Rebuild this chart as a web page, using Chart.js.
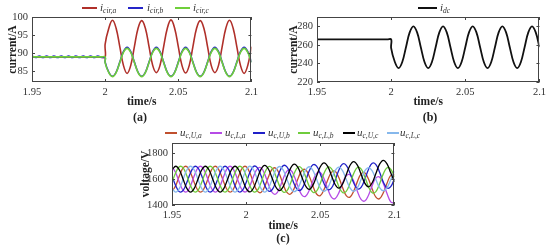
<!DOCTYPE html>
<html>
<head>
<meta charset="utf-8">
<script src="https://cdn.jsdelivr.net/npm/chart.js@4.4.0/dist/chart.umd.min.js"></script>
<style>
  html, body { margin: 0; padding: 0; background: #fff; }
  #wrap { position: relative; width: 550px; height: 250px; overflow: hidden; background: #fff; }
  canvas { position: absolute; }
  .cap { position: absolute; font: bold 12px "Liberation Serif", serif; color: #222; text-align: center; line-height: 14px; }
  .lg-line { position: absolute; height: 2px; }
  .lg-txt { position: absolute; font: italic 11px "Liberation Serif", serif; color: #333; line-height: 14px; white-space: nowrap; }
  .lg-txt sub { font-size: 7.5px; vertical-align: -2px; }
</style>
</head>
<body>
<div id="wrap">
  <canvas id="chartA" width="262" height="109" style="left:0;top:0"></canvas>
  <canvas id="chartB" width="268" height="109" style="left:282px;top:0"></canvas>
  <canvas id="chartC" width="270" height="107" style="left:135px;top:126px"></canvas>

  <!-- legends -->
  <div class="lg-line" style="left:82px;top:7px;width:15px;background:#b0302a"></div>
  <div class="lg-txt" style="left:100px;top:0px"><i>i</i><sub>cir,a</sub></div>
  <div class="lg-line" style="left:128px;top:7px;width:15px;background:#2525c8"></div>
  <div class="lg-txt" style="left:147px;top:0px"><i>i</i><sub>cir,b</sub></div>
  <div class="lg-line" style="left:175px;top:7px;width:15px;background:#6fcf3a"></div>
  <div class="lg-txt" style="left:193px;top:0px"><i>i</i><sub>cir,c</sub></div>

  <div class="lg-line" style="left:418px;top:7px;width:19px;background:#111"></div>
  <div class="lg-txt" style="left:440px;top:0px"><i>i</i><sub>dc</sub></div>

  <div class="lg-line" style="left:165px;top:132px;width:12px;background:#c0502e"></div>
  <div class="lg-txt" style="left:180px;top:125px"><i>u</i><sub>c,U,a</sub></div>
  <div class="lg-line" style="left:210px;top:132px;width:12px;background:#b64be6"></div>
  <div class="lg-txt" style="left:225px;top:125px"><i>u</i><sub>c,L,a</sub></div>
  <div class="lg-line" style="left:253px;top:132px;width:12px;background:#2020c8"></div>
  <div class="lg-txt" style="left:268px;top:125px"><i>u</i><sub>c,U,b</sub></div>
  <div class="lg-line" style="left:298px;top:132px;width:12px;background:#6fcc3c"></div>
  <div class="lg-txt" style="left:313px;top:125px"><i>u</i><sub>c,L,b</sub></div>
  <div class="lg-line" style="left:343px;top:132px;width:12px;background:#000"></div>
  <div class="lg-txt" style="left:357px;top:125px"><i>u</i><sub>c,U,c</sub></div>
  <div class="lg-line" style="left:387px;top:132px;width:12px;background:#86b8ec"></div>
  <div class="lg-txt" style="left:400px;top:125px"><i>u</i><sub>c,L,c</sub></div>

  <div class="cap" style="left:90px;top:110px;width:100px">(a)</div>
  <div class="cap" style="left:380px;top:110px;width:100px">(b)</div>
  <div class="cap" style="left:233px;top:231px;width:100px">(c)</div>
</div>
<script>
// --- DATA ---
// time before the step (1.95 .. 1.9975 s) and after it (2.0 .. 2.1 s)
const tPre = [1.95, 1.9525, 1.955, 1.9575, 1.96, 1.9625, 1.965, 1.9675, 1.97, 1.9725,
  1.975, 1.9775, 1.98, 1.9825, 1.985, 1.9875, 1.99, 1.9925, 1.995, 1.9975];
const tDyn = [2, 2.0025, 2.005, 2.0075, 2.01, 2.0125, 2.015, 2.0175, 2.02, 2.0225,
  2.025, 2.0275, 2.03, 2.0325, 2.035, 2.0375, 2.04, 2.0425, 2.045, 2.0475,
  2.05, 2.0525, 2.055, 2.0575, 2.06, 2.0625, 2.065, 2.0675, 2.07, 2.0725,
  2.075, 2.0775, 2.08, 2.0825, 2.085, 2.0875, 2.09, 2.0925, 2.095, 2.0975, 2.1];

const timeTicks = [1.95, 2, 2.05, 2.1];
const cirTicks = [85, 90, 95, 100];
const dcTicks = [220, 240, 260, 280];
const volTicks = [1400, 1600, 1800];

// (a) circulating currents, A
const cirAPre = [88.85, 88.85, 88.85, 88.85, 88.85, 88.85, 88.85, 88.85, 88.85, 88.85,
  88.85, 88.85, 88.85, 88.85, 88.85, 88.85, 88.85, 88.85, 88.85, 88.85];
const cirBPre = [89.2, 88.8, 89.2, 88.8, 89.2, 88.8, 89.2, 88.8, 89.2, 88.8,
  89.2, 88.8, 89.2, 88.8, 89.2, 88.8, 89.2, 88.8, 89.2, 88.8];
const cirCPre = [88.95, 88.95, 88.95, 88.95, 88.95, 88.95, 88.95, 88.95, 88.95, 88.95,
  88.95, 88.95, 88.95, 88.95, 88.95, 88.95, 88.95, 88.95, 88.95, 88.95];
const cirADyn = [92.5, 96.9, 99.1, 96.9, 91.8, 86.6, 84.4, 86.6,
  91.8, 96.9, 99.0, 96.9, 91.8, 86.6, 84.6, 86.6,
  91.8, 96.9, 99.2, 96.9, 91.8, 86.6, 84.5, 86.6,
  91.8, 96.9, 99.0, 96.9, 91.8, 86.6, 84.6, 86.6,
  91.8, 96.9, 99.1, 96.9, 91.8, 86.6, 84.4, 86.6, 91.8];
const cirBDyn = [87.5, 84.7, 83.6, 84.7, 87.5, 90.4, 91.6, 90.4,
  87.5, 84.7, 83.6, 84.7, 87.5, 90.4, 91.6, 90.4,
  87.5, 84.7, 83.6, 84.7, 87.5, 90.4, 91.6, 90.4,
  87.5, 84.7, 83.6, 84.7, 87.5, 90.4, 91.6, 90.4,
  87.5, 84.7, 83.6, 84.7, 87.5, 90.4, 91.6, 90.4, 87.5];
const cirCDyn = [87.3, 84.6, 83.5, 84.6, 87.4, 90.2, 91.3, 90.2,
  87.4, 84.6, 83.5, 84.6, 87.4, 90.2, 91.3, 90.2,
  87.4, 84.6, 83.5, 84.6, 87.4, 90.2, 91.3, 90.2,
  87.4, 84.6, 83.5, 84.6, 87.4, 90.2, 91.3, 90.2,
  87.4, 84.6, 83.5, 84.6, 87.4, 90.2, 91.3, 90.2, 87.4];

// (b) dc current, A
const idcPre = [266, 266, 266, 266, 266, 266, 266, 266, 266, 266,
  266, 266, 266, 266, 266, 266, 266, 266, 266, 266];
const idcDyn = [256.5, 241.6, 235, 241.6, 257.5, 273.4, 280, 273.4,
  257.5, 241.6, 235, 241.6, 257.5, 273.4, 280, 273.4,
  257.5, 241.6, 235, 241.6, 257.5, 273.4, 280, 273.4,
  257.5, 241.6, 235, 241.6, 257.5, 273.4, 280, 273.4,
  257.5, 241.6, 235, 241.6, 257.5, 273.4, 280, 273.4, 257.5];

// (c) capacitor voltages, V
const ucUaPre = [1503, 1550, 1626, 1687, 1697, 1650, 1574, 1513, 1503, 1550,
  1626, 1687, 1697, 1650, 1574, 1513, 1503, 1550, 1626, 1687];
const ucUaDyn = [1697, 1649, 1571, 1509, 1497, 1543, 1617, 1677,
  1685, 1637, 1559, 1497, 1485, 1531, 1605, 1665,
  1673, 1625, 1547, 1485, 1473, 1519, 1593, 1653,
  1661, 1613, 1535, 1473, 1461, 1507, 1581, 1641,
  1649, 1601, 1523, 1461, 1449, 1495, 1569, 1629, 1637];
const ucLaPre = [1697, 1650, 1574, 1513, 1503, 1550, 1626, 1687, 1697, 1650,
  1574, 1513, 1503, 1550, 1626, 1687, 1697, 1650, 1574, 1513];
const ucLaDyn = [1503, 1548, 1622, 1680, 1688, 1639, 1561, 1497,
  1485, 1530, 1604, 1662, 1670, 1621, 1543, 1479,
  1467, 1512, 1586, 1644, 1652, 1603, 1525, 1461,
  1449, 1494, 1568, 1626, 1634, 1585, 1507, 1443,
  1431, 1476, 1550, 1608, 1616, 1567, 1489, 1425, 1413];
const ucUbPre = [1626, 1550, 1503, 1513, 1574, 1650, 1697, 1687, 1626, 1550,
  1503, 1513, 1574, 1650, 1697, 1687, 1626, 1550, 1503, 1513];
const ucUbDyn = [1574, 1651, 1699, 1689, 1629, 1554, 1508, 1518,
  1580, 1657, 1705, 1695, 1635, 1560, 1514, 1524,
  1586, 1663, 1711, 1701, 1641, 1566, 1520, 1530,
  1592, 1669, 1717, 1707, 1647, 1572, 1526, 1536,
  1598, 1675, 1723, 1713, 1653, 1578, 1532, 1542, 1604];
const ucLbPre = [1574, 1650, 1697, 1687, 1626, 1550, 1503, 1513, 1574, 1650,
  1697, 1687, 1626, 1550, 1503, 1513, 1574, 1650, 1697, 1687];
const ucLbDyn = [1626, 1550, 1503, 1512, 1573, 1649, 1696, 1685,
  1624, 1548, 1501, 1510, 1571, 1647, 1694, 1683,
  1622, 1546, 1499, 1508, 1569, 1645, 1692, 1681,
  1620, 1544, 1497, 1506, 1567, 1643, 1690, 1679,
  1618, 1542, 1495, 1504, 1565, 1641, 1688, 1677, 1616];
const ucUcPre = [1671, 1700, 1671, 1600, 1529, 1500, 1529, 1600, 1671, 1700,
  1671, 1600, 1529, 1500, 1529, 1600, 1671, 1700, 1671, 1600];
const ucUcDyn = [1529, 1501, 1532, 1604, 1676, 1706, 1679, 1609,
  1539, 1511, 1542, 1614, 1686, 1716, 1689, 1619,
  1549, 1521, 1552, 1624, 1696, 1726, 1699, 1629,
  1559, 1531, 1562, 1634, 1706, 1736, 1709, 1639,
  1569, 1541, 1572, 1644, 1716, 1746, 1719, 1649, 1579];
const ucLcPre = [1529, 1500, 1529, 1600, 1671, 1700, 1671, 1600, 1529, 1500,
  1529, 1600, 1671, 1700, 1671, 1600, 1529, 1500, 1529, 1600];
const ucLcDyn = [1671, 1700, 1671, 1600, 1529, 1500, 1529, 1600,
  1670, 1698, 1670, 1600, 1531, 1503, 1531, 1600,
  1668, 1696, 1668, 1599, 1532, 1505, 1532, 1598,
  1666, 1693, 1666, 1598, 1533, 1507, 1533, 1597,
  1664, 1690, 1664, 1597, 1534, 1509, 1534, 1596, 1662];

// --- HELPERS ---
const serif = '"Liberation Serif", "Times New Roman", serif';
const tickFont = { family: serif, size: 10.5 };
const titleFont = { family: serif, size: 11.5, weight: 'bold' };

const pts = (xs, ys) => xs.map((x, i) => ({ x, y: ys[i] }));
// value held until the step at t = 2 s, then the dynamic part
const stepped = (pre, dyn) =>
  pts(tPre, pre).concat([{ x: tDyn[0], y: pre[pre.length - 1] }], pts(tDyn, dyn));
const joined = (pre, dyn) => pts(tPre.concat(tDyn), pre.concat(dyn));

const line = (data, color, width, order) => ({
  data, borderColor: color, borderWidth: width, order,
  pointRadius: 0, tension: 0.4, fill: false
});

// MATLAB-like box with inward ticks
const framePlugin = {
  id: 'frame',
  afterDatasetsDraw(chart) {
    const { ctx, chartArea: a, scales: { x, y } } = chart;
    ctx.save();
    ctx.strokeStyle = '#444';
    ctx.lineWidth = 1;
    ctx.beginPath();
    x.ticks.forEach(t => {
      const px = Math.round(x.getPixelForValue(t.value)) + 0.5;
      ctx.moveTo(px, a.bottom); ctx.lineTo(px, a.bottom - 3);
      ctx.moveTo(px, a.top); ctx.lineTo(px, a.top + 3);
    });
    y.ticks.forEach(t => {
      const py = Math.round(y.getPixelForValue(t.value)) + 0.5;
      ctx.moveTo(a.left, py); ctx.lineTo(a.left + 3, py);
      ctx.moveTo(a.right, py); ctx.lineTo(a.right - 3, py);
    });
    ctx.stroke();
    ctx.strokeRect(Math.round(a.left) + 0.5, Math.round(a.top) + 0.5,
      Math.round(a.right - a.left) - 1, Math.round(a.bottom - a.top) - 1);
    ctx.restore();
  }
};

const fmt = v => String(+(+v).toFixed(3));

function makeChart(id, datasets, o) {
  return new Chart(document.getElementById(id), {
    type: 'line',
    data: { datasets },
    plugins: [framePlugin],
    options: {
      responsive: false,
      animation: false,
      layout: { padding: { top: 17, left: 0, right: o.right, bottom: 0 } },
      plugins: { legend: { display: false }, tooltip: { enabled: false } },
      scales: {
        x: {
          type: 'linear', min: 1.95, max: 2.1,
          afterBuildTicks: s => { s.ticks = timeTicks.map(v => ({ value: v })); },
          afterFit: s => { s.height = o.xH; },
          grid: { display: false, drawTicks: false }, border: { display: false },
          ticks: { font: tickFont, color: '#333', padding: 4, maxRotation: 0, autoSkip: false, callback: fmt },
          title: { display: true, text: 'time/s', font: titleFont, color: '#222', padding: { top: 0, bottom: 0 } }
        },
        y: {
          type: 'linear', min: o.yMin, max: o.yMax,
          afterBuildTicks: s => { s.ticks = o.yTicks.map(v => ({ value: v })); },
          afterFit: s => { s.width = o.yW; },
          grid: { display: false, drawTicks: false }, border: { display: false },
          ticks: { font: tickFont, color: '#333', padding: 4, autoSkip: false, callback: fmt },
          title: { display: true, text: o.yTitle, font: titleFont, color: '#222', padding: { top: o.titlePad, bottom: 0 } }
        }
      }
    }
  });
}

// --- CHARTS ---
makeChart('chartA', [
  line(stepped(cirAPre, cirADyn), '#b0302a', 1.6, 3),
  line(stepped(cirBPre, cirBDyn), '#2525c8', 1.6, 2),
  line(stepped(cirCPre, cirCDyn), '#6fcf3a', 1.6, 1)
], { right: 7, xH: 27, yW: 32, yMin: 82, yMax: 100, yTicks: cirTicks, yTitle: 'current/A', titlePad: 6 });

makeChart('chartB', [
  line(stepped(idcPre, idcDyn), '#111', 1.8, 1)
], { right: 8, xH: 27, yW: 35, yMin: 220, yMax: 290, yTicks: dcTicks, yTitle: 'current/A', titlePad: 5 });

makeChart('chartC', [
  line(joined(ucUaPre, ucUaDyn), '#c0502e', 1.3, 6),
  line(joined(ucLaPre, ucLaDyn), '#b64be6', 1.3, 5),
  line(joined(ucUbPre, ucUbDyn), '#2020c8', 1.3, 4),
  line(joined(ucLbPre, ucLbDyn), '#6fcc3c', 1.3, 3),
  line(joined(ucLcPre, ucLcDyn), '#86b8ec', 1.3, 2),
  line(joined(ucUcPre, ucUcDyn), '#000', 1.3, 1)
], { right: 7, xH: 28, yW: 37, yMin: 1400, yMax: 1880, yTicks: volTicks, yTitle: 'voltage/V', titlePad: 4 });
</script>
</body>
</html>
